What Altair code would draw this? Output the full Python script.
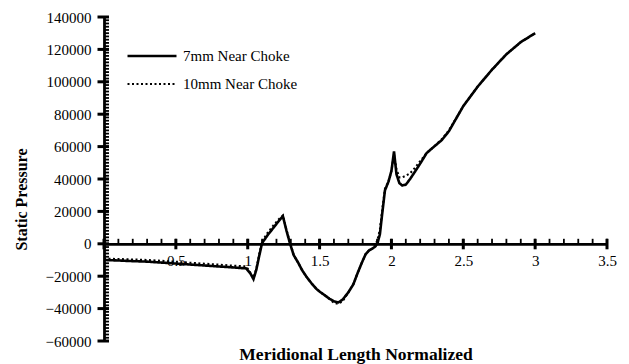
import altair as alt
import pandas as pd

# ---- data ----
x_vals = [0, 0.1, 0.2, 0.3, 0.4, 0.5, 0.6, 0.7, 0.8, 0.9, 0.99, 1.02, 1.04, 1.06, 1.08,
          1.10, 1.14, 1.18, 1.22, 1.245, 1.27, 1.295, 1.32, 1.35, 1.38, 1.41, 1.445, 1.48,
          1.50, 1.54, 1.57, 1.60, 1.63, 1.66, 1.70, 1.735, 1.765, 1.795, 1.82, 1.845, 1.87,
          1.89, 1.905, 1.92, 1.935, 1.955, 1.98, 2.0, 2.018, 2.035, 2.055, 2.075, 2.10, 2.13,
          2.16, 2.2, 2.245, 2.29, 2.35, 2.4, 2.5, 2.6, 2.7, 2.8, 2.9, 3.0]

y_7mm = [-10000, -10300, -10700, -11000, -11600, -12200, -12800, -13400, -14000, -14600,
         -15200, -18500, -21800, -16000, -7500, 500, 5500, 10000, 14500, 17000, 8000, 0,
         -7000, -11500, -16500, -20500, -24500, -28000, -29500, -32000, -34000, -35500,
         -36200, -34500, -30000, -25000, -18000, -11500, -6500, -4000, -2800, -1500, 1000,
         6000, 18000, 33000, 38500, 45000, 57000, 43000, 37500, 36000, 36500, 40000, 44000,
         49500, 56000, 59500, 64000, 69500, 85000, 97000, 107500, 117000, 124500, 130000]

y_10mm = [-9200, -9400, -9700, -10000, -10500, -11100, -11700, -12300, -12900, -13500,
          -14000, -18000, -21000, -15500, -6500, 1500, 7000, 11500, 15500, 17500, 8500, 500,
          -7000, -11500, -16500, -20500, -24500, -28000, -29500, -32000, -34000, -36500,
          -37000, -35500, -30000, -25000, -18000, -11500, -6500, -4000, -2800, -500, 3000,
          9000, 20000, 34000, 38500, 45000, 55000, 46000, 41000, 41000, 42000, 43500, 46500,
          51000, 56000, 59500, 64500, 70000, 85000, 97000, 107500, 117000, 124500, 130000]

series_names = ["7mm Near Choke", "10mm Near Choke"]

x_major = [0, 0.5, 1, 1.5, 2, 2.5, 3, 3.5]
x_minor = [round(i * 0.1, 1) for i in range(0, 36)]
y_major = list(range(-60000, 140001, 20000))
y_minor = list(range(-60000, 140001, 2000))

# ---- layout ----
W, H = 503, 324
Y_MIN, Y_MAX = -60000, 140000
ZERO_FROM_TOP = H * Y_MAX / (Y_MAX - Y_MIN)
FONT = "Liberation Serif"

rows = []
for name, ys in zip(series_names, [y_7mm, y_10mm]):
    for i, (xv, yv) in enumerate(zip(x_vals, ys)):
        rows.append({"series": name, "x": xv, "p": yv, "order": i})
df = pd.DataFrame(rows)

xs = alt.Scale(domain=[0, 3.5], nice=False, zero=False)
ysc = alt.Scale(domain=[Y_MIN, Y_MAX], nice=False, zero=False)

legend = alt.Legend(
    orient="none", legendX=22, legendY=25, title=None,
    symbolType="stroke", symbolSize=2400, symbolStrokeColor="black",
    labelFont=FONT, labelFontSize=15, labelColor="black", labelOffset=5,
    clipHeight=28, rowPadding=0, padding=0,
)

lines = alt.Chart(df).mark_line(color="black").encode(
    x=alt.X("x:Q", scale=xs, axis=alt.Axis(
        orient="bottom", offset=-(H - ZERO_FROM_TOP), values=x_major[1:], format="~g",
        ticks=False, labelPadding=10, labelFontSize=15, labelOverlap=False, labelFlush=False,
        title="Meridional  Length Normalized", titleFontSize=17.5, titleFontWeight="bold",
        titleY=116, titleBaseline="alphabetic",
    )),
    y=alt.Y("p:Q", scale=ysc, axis=alt.Axis(
        orient="left", values=y_major, format="d",
        ticks=False, labelPadding=13, labelFontSize=15, labelOverlap=False, labelFlush=False,
        title="Static Pressure", titleFontSize=16, titleFontWeight="bold",
        titleX=-83, titleY=182, titleAngle=270, titleAlign="center", titleBaseline="middle",
    )),
    strokeDash=alt.StrokeDash("series:N", scale=alt.Scale(domain=series_names, range=[[1, 0], [2, 2.5]]), legend=legend),
    strokeWidth=alt.StrokeWidth("series:N", scale=alt.Scale(domain=series_names, range=[2.6, 2.1]), legend=legend),
    order="order:Q",
)

# tick marks (minor ticks point inward, major ticks cross the axis line)
x_minor_ticks = alt.Chart(pd.DataFrame({"v": x_minor})).mark_rule(
    color="black", strokeWidth=1.8, yOffset=0, y2Offset=-5
).encode(
    x=alt.X("v:Q", scale=xs, axis=None),
    y=alt.YDatum(0, scale=ysc, axis=None),
    y2=alt.Y2Datum(0),
)
x_major_ticks = alt.Chart(pd.DataFrame({"v": x_major})).mark_rule(
    color="black", strokeWidth=3, yOffset=5.5, y2Offset=-5
).encode(
    x=alt.X("v:Q", scale=xs, axis=None),
    y=alt.YDatum(0, scale=ysc, axis=None),
    y2=alt.Y2Datum(0),
)
y_minor_ticks = alt.Chart(pd.DataFrame({"v": y_minor})).mark_rule(
    color="black", strokeWidth=1.8, xOffset=0, x2Offset=5
).encode(
    y=alt.Y("v:Q", scale=ysc, axis=None),
    x=alt.XDatum(0, scale=xs, axis=None),
    x2=alt.X2Datum(0),
)
y_major_ticks = alt.Chart(pd.DataFrame({"v": y_major})).mark_rule(
    color="black", strokeWidth=3, xOffset=-6.5, x2Offset=5
).encode(
    y=alt.Y("v:Q", scale=ysc, axis=None),
    x=alt.XDatum(0, scale=xs, axis=None),
    x2=alt.X2Datum(0),
)

chart = alt.layer(lines, x_minor_ticks, x_major_ticks, y_minor_ticks, y_major_ticks).resolve_axis(
    x="independent", y="independent"
).properties(
    width=W, height=H,
    padding={"left": 104, "top": 17, "right": 22, "bottom": 23},
    autosize="none",
    background="white",
).configure_view(strokeWidth=0).configure_axis(
    grid=False, domainColor="black", domainWidth=2.8,
    labelFont=FONT, titleFont=FONT, labelColor="black", titleColor="black",
)

chart.save("out.html", embed_options={"renderer": "svg", "actions": False})
